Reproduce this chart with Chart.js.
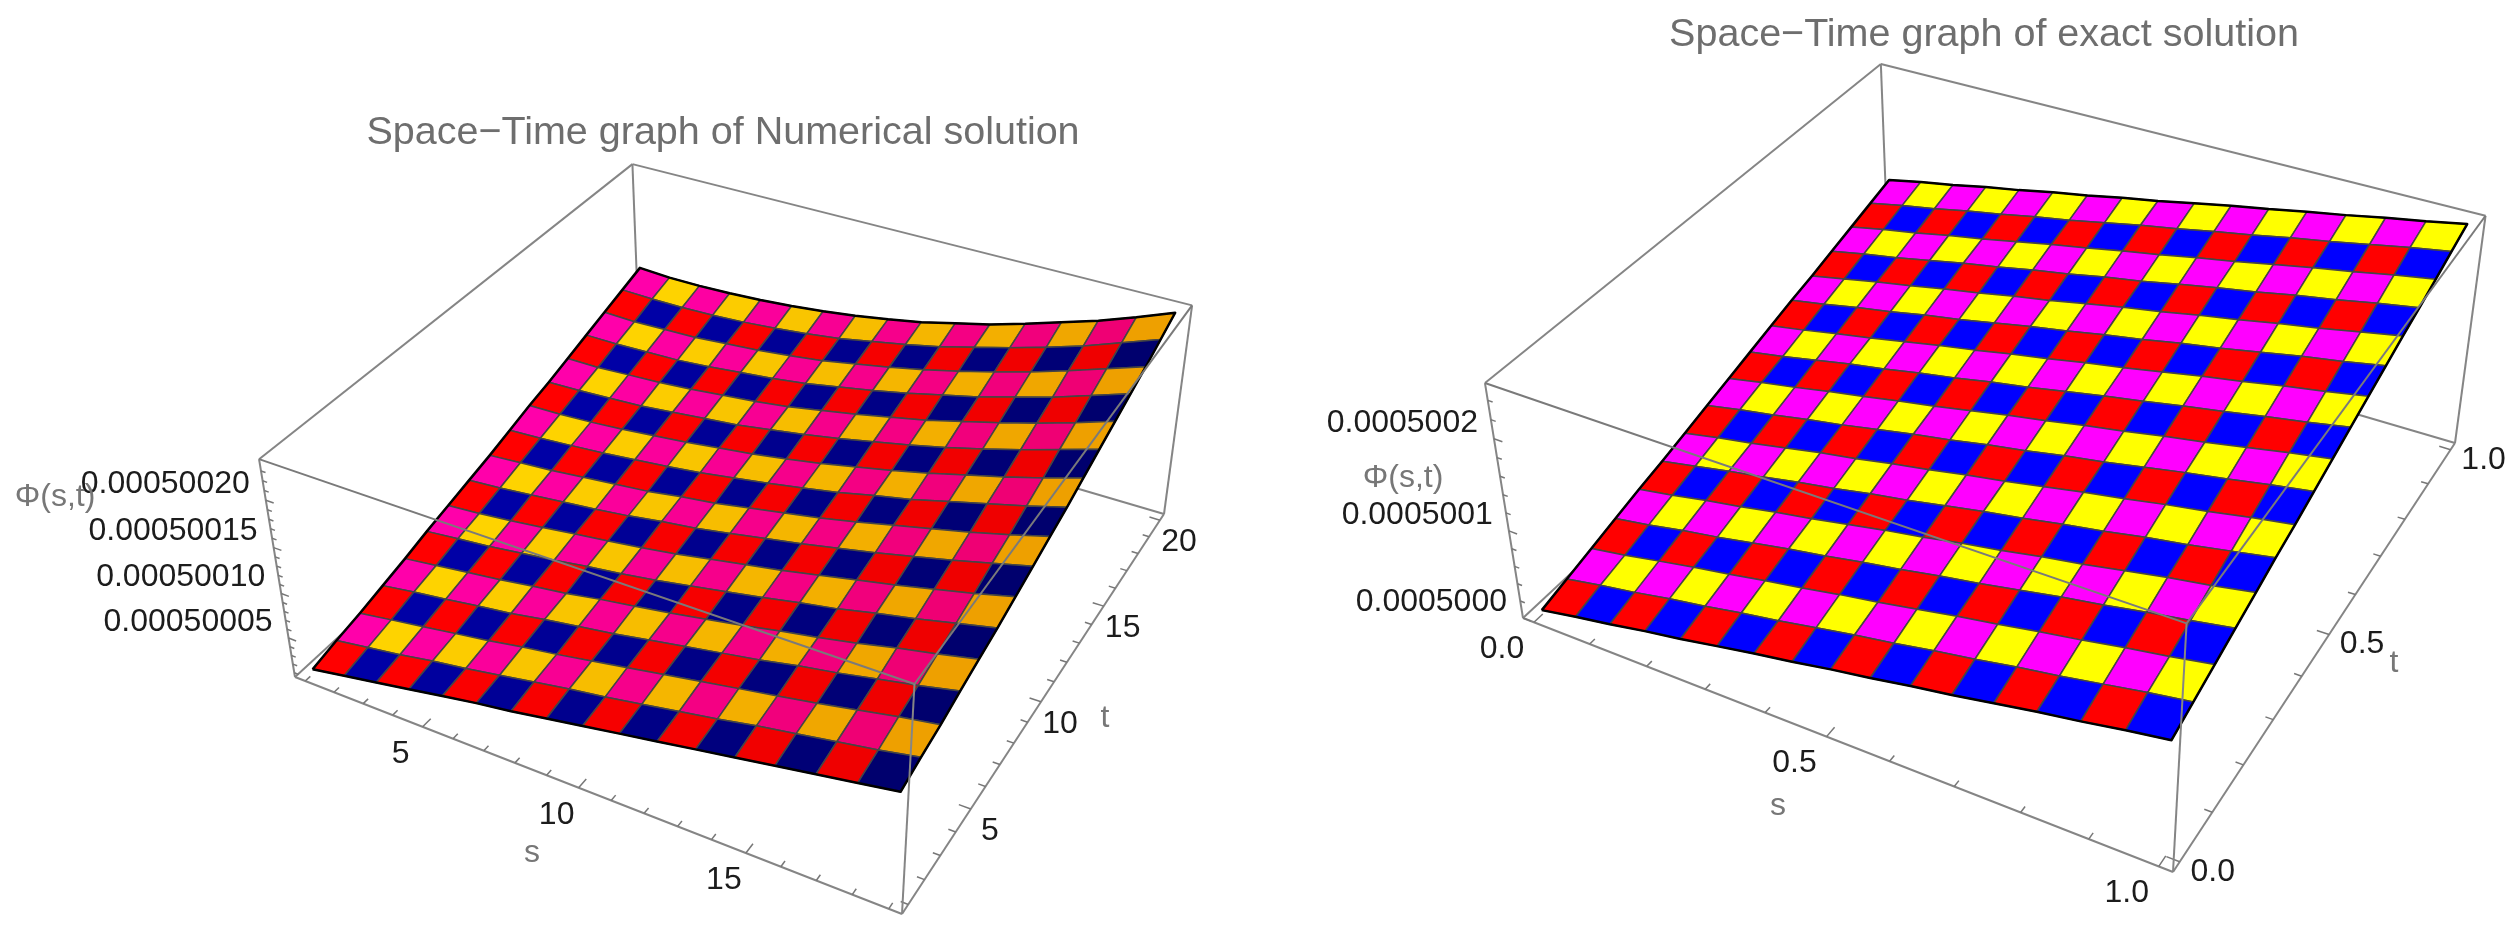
<!DOCTYPE html>
<html>
<head>
<meta charset="utf-8">
<title>Space-Time graphs</title>
<script src="https://cdn.jsdelivr.net/npm/chart.js@4"></script>
<style>
  html, body { margin: 0; padding: 0; background: #fff; overflow: hidden; }
  canvas { position: absolute; top: 0; }
</style>
</head>
<body>
<canvas id="numericChart" width="1300" height="935" style="left:0"></canvas>
<canvas id="exactChart" width="1219" height="935" style="left:1300px"></canvas>
<script>
'use strict';

// mesh nodes of both surfaces
const numericS = [1, 2.125, 3.25, 4.375, 5.5, 6.625, 7.75, 8.875, 10, 11.125, 12.25, 13.375, 14.5, 15.625, 16.75, 17.875, 19];
const numericT = [1, 2.1875, 3.375, 4.5625, 5.75, 6.9375, 8.125, 9.3125, 10.5, 11.6875, 12.875, 14.0625, 15.25, 16.4375, 17.625, 18.8125, 20];
const exactS = [0, 0.0625, 0.125, 0.1875, 0.25, 0.3125, 0.375, 0.4375, 0.5, 0.5625, 0.625, 0.6875, 0.75, 0.8125, 0.875, 0.9375, 1];
const exactT = [0, 0.0625, 0.125, 0.1875, 0.25, 0.3125, 0.375, 0.4375, 0.5, 0.5625, 0.625, 0.6875, 0.75, 0.8125, 0.875, 0.9375, 1];

// values, as (phi - 0.0005) in units of 1e-9; one row per t, one column per s
const numericPhi = [
  [10, 17, 24, 31, 38, 45, 51, 58, 65, 72, 79, 86, 93, 100, 107, 114, 121],
  [17, 23, 29, 36, 42, 49, 56, 63, 69, 76, 83, 90, 98, 105, 112, 119, 127],
  [23, 29, 35, 41, 47, 54, 60, 67, 74, 81, 88, 95, 102, 109, 117, 125, 132],
  [30, 36, 41, 47, 52, 59, 65, 71, 78, 85, 92, 99, 107, 114, 122, 130, 139],
  [37, 42, 47, 52, 58, 63, 70, 76, 82, 89, 96, 104, 111, 119, 128, 136, 145],
  [45, 49, 53, 58, 63, 69, 74, 80, 87, 94, 101, 109, 116, 125, 133, 142, 151],
  [52, 55, 59, 64, 69, 74, 79, 85, 92, 99, 106, 114, 122, 130, 139, 148, 158],
  [59, 62, 66, 70, 74, 79, 85, 90, 97, 104, 111, 119, 127, 136, 145, 155, 165],
  [66, 69, 72, 76, 80, 84, 90, 95, 102, 109, 116, 124, 133, 142, 151, 161, 172],
  [74, 76, 79, 82, 86, 90, 95, 101, 107, 114, 121, 130, 138, 148, 158, 168, 179],
  [82, 83, 85, 88, 92, 96, 101, 106, 112, 119, 127, 135, 144, 154, 164, 175, 187],
  [89, 90, 92, 94, 98, 102, 106, 112, 118, 125, 133, 141, 150, 160, 171, 183, 195],
  [97, 97, 99, 101, 104, 108, 112, 117, 124, 131, 139, 147, 157, 167, 178, 190, 203],
  [105, 105, 106, 107, 110, 114, 118, 123, 130, 137, 145, 154, 163, 174, 185, 198, 211],
  [113, 112, 113, 114, 117, 120, 124, 129, 136, 143, 151, 160, 170, 181, 193, 206, 219],
  [121, 120, 120, 121, 123, 126, 130, 135, 142, 149, 157, 167, 177, 188, 200, 214, 228],
  [129, 127, 127, 128, 130, 133, 137, 142, 148, 155, 164, 173, 184, 196, 208, 222, 237]
];
const exactPhi = [
  [5, 13, 20, 28, 35, 43, 51, 58, 66, 73, 81, 88, 96, 104, 111, 119, 126],
  [13, 21, 28, 36, 43, 51, 58, 66, 74, 81, 89, 96, 104, 111, 119, 127, 134],
  [21, 28, 36, 44, 51, 59, 66, 74, 81, 89, 97, 104, 112, 119, 127, 134, 142],
  [29, 36, 44, 51, 59, 67, 74, 82, 89, 97, 104, 112, 120, 127, 135, 142, 150],
  [37, 44, 52, 59, 67, 74, 82, 90, 97, 105, 112, 120, 127, 135, 143, 150, 158],
  [44, 52, 60, 67, 75, 82, 90, 97, 105, 113, 120, 128, 135, 143, 150, 158, 166],
  [52, 60, 67, 75, 83, 90, 98, 105, 113, 120, 128, 136, 143, 151, 158, 166, 173],
  [60, 68, 75, 83, 90, 98, 106, 113, 121, 128, 136, 143, 151, 159, 166, 174, 181],
  [68, 76, 83, 91, 98, 106, 113, 121, 129, 136, 144, 151, 159, 166, 174, 182, 189],
  [76, 83, 91, 99, 106, 114, 121, 129, 136, 144, 152, 159, 167, 174, 182, 189, 197],
  [84, 91, 99, 106, 114, 122, 129, 137, 144, 152, 159, 167, 175, 182, 190, 197, 205],
  [92, 99, 107, 114, 122, 129, 137, 145, 152, 160, 167, 175, 182, 190, 198, 205, 213],
  [99, 107, 115, 122, 130, 137, 145, 152, 160, 168, 175, 183, 190, 198, 205, 213, 221],
  [107, 115, 122, 130, 138, 145, 153, 160, 168, 175, 183, 191, 198, 206, 213, 221, 228],
  [115, 123, 130, 138, 145, 153, 161, 168, 176, 183, 191, 198, 206, 214, 221, 229, 236],
  [123, 131, 138, 146, 153, 161, 168, 176, 184, 191, 199, 206, 214, 221, 229, 237, 244],
  [131, 139, 146, 154, 161, 169, 176, 184, 191, 199, 207, 214, 222, 229, 237, 244, 252]
];

// ticks
const numericSTicks = [1, 2, 3, 4, 5, 6, 7, 8, 9, 10, 11, 12, 13, 14, 15, 16, 17, 18, 19];
const numericSLabels = [5, 10, 15];
const numericTTicks = [1, 2, 3, 4, 5, 6, 7, 8, 9, 10, 11, 12, 13, 14, 15, 16, 17, 18, 19, 20];
const numericTLabels = [5, 10, 15, 20];
const numericPhiTicks = [10, 20, 30, 40, 50, 60, 70, 80, 90, 100, 110, 120, 130, 140, 150, 160, 170, 180, 190, 200, 210, 220, 230];
const numericPhiLabels = [50, 100, 150, 200];
const exactSTicks = [0, 0.1, 0.2, 0.3, 0.4, 0.5, 0.6, 0.7, 0.8, 0.9, 1];
const exactSLabels = [0, 0.5, 1];
const exactTTicks = [0, 0.1, 0.2, 0.3, 0.4, 0.5, 0.6, 0.7, 0.8, 0.9, 1];
const exactTLabels = [0, 0.5, 1];
const exactPhiTicks = [0, 20, 40, 60, 80, 100, 120, 140, 160, 180, 200, 220, 240];
const exactPhiLabels = [0, 100, 200];

const TITLE_SIZE = 39.5;
const TICK_FONT = '32px "Liberation Sans"';
const LABEL_FONT = '32px "Liberation Sans"';
const TICK_COLOR = '#1c1c1c';
const LABEL_COLOR = '#777777';
const BOX_COLOR = '#858585';
const MESH_COLOR = '#454545';

const panels = [{
  canvas: 'numericChart',
  originX: 0,
  chartLeft: 146,
  chartRight: 1300,
  title: 'Space\u2212Time graph of Numerical solution',
  titleTop: 109,
  s: numericS, t: numericT, phi: numericPhi,
  sRange: [0.64, 19.36], tRange: [0.62, 20.38], phiRange: [5, 242],
  sTicks: numericSTicks, sLabels: numericSLabels,
  tTicks: numericTTicks, tLabels: numericTLabels,
  phiTicks: numericPhiTicks, phiLabels: numericPhiLabels,
  axisDecimals: 0, phiDecimals: 8,
  // view of the box: u, v, w in 0..1 to homogeneous picture position
  camera: [
    [496.17, 485.69, -54.5, 295],
    [124.70, -237.86, -250.7, 677],
    [-0.12287, 0.21983, -0.07157, 1]
  ],
  sOffset: [-22, 27], tOffset: [19, 22], phiOffset: [-16, -16],
  sName: [532, 853], tName: [1105, 718], phiName: [55, 497],
  shades: [
    [[[255, 0, 0], [238, 0, 0]], [[0, 0, 170], [0, 0, 110]]],
    [[[255, 0, 170], [238, 0, 112]], [[255, 215, 0], [238, 160, 0]]]
  ]
}, {
  canvas: 'exactChart',
  originX: 1300,
  chartLeft: 1449,
  chartRight: 2519,
  title: 'Space\u2212Time graph of exact solution',
  titleTop: 11,
  s: exactS, t: exactT, phi: exactPhi,
  sRange: [-0.02, 1.02], tRange: [-0.02, 1.02], phiRange: [0, 257.7],
  sTicks: exactSTicks, sLabels: exactSLabels,
  tTicks: exactTTicks, tLabels: exactTLabels,
  phiTicks: exactPhiTicks, phiLabels: exactPhiLabels,
  axisDecimals: 1, phiDecimals: 7,
  camera: [
    [380.92, 762.90, -143.7, 1523],
    [146.02, -282.80, -262.2, 618],
    [-0.12383, 0.21011, -0.07116, 1]
  ],
  sOffset: [-32, 27], tOffset: [33, 10], phiOffset: [-16, -16],
  sName: [1778, 806], tName: [2394, 663], phiName: [1403, 478],
  shades: [
    [[[255, 0, 0], [255, 0, 0]], [[0, 0, 255], [0, 0, 255]]],
    [[[255, 0, 255], [255, 0, 255]], [[255, 255, 0], [255, 255, 0]]]
  ]
}];

function project(cam, u, v, w) {
  const d = cam[2][0] * u + cam[2][1] * v + cam[2][2] * w + cam[2][3];
  return {
    x: (cam[0][0] * u + cam[0][1] * v + cam[0][2] * w + cam[0][3]) / d,
    y: (cam[1][0] * u + cam[1][1] * v + cam[1][2] * w + cam[1][3]) / d
  };
}

function unit(range, value) {
  return (value - range[0]) / (range[1] - range[0]);
}

function surfacePoint(p, i, j) {
  return project(p.camera, unit(p.sRange, p.s[i]), unit(p.tRange, p.t[j]), unit(p.phiRange, p.phi[j][i]));
}

function lineSet(points, color, width, extra) {
  return Object.assign({
    data: points,
    showLine: true,
    borderColor: color,
    borderWidth: width,
    borderJoinStyle: 'round',
    pointRadius: 0,
    fill: false,
    clip: false
  }, extra || {});
}

function cellColor(p, i, j) {
  const pair = p.shades[j % 2][i % 2];
  const f = i / (p.s.length - 2);
  const c = pair[0].map((from, k) => Math.round(from + (pair[1][k] - from) * f));
  return 'rgb(' + c.join(',') + ')';
}

function buildDatasets(p) {
  const cam = p.camera;
  const sets = [];
  const edge = (a, b, color, width) => sets.push(lineSet(
    [project(cam, a[0], a[1], a[2]), project(cam, b[0], b[1], b[2])], color || BOX_COLOR, width || 2));

  // box edges behind the surface
  edge([0, 0, 0], [0, 1, 0]);
  edge([0, 1, 0], [1, 1, 0]);
  edge([0, 1, 0], [0, 1, 1]);
  edge([0, 0, 1], [0, 1, 1]);
  edge([0, 1, 1], [1, 1, 1]);
  edge([0, 0, 0], [0, 0, 1]);
  edge([1, 1, 0], [1, 1, 1]);
  edge([0, 0, 0], [1, 0, 0]);
  edge([1, 0, 0], [1, 1, 0]);

  // ticks
  p.sTicks.forEach(val => {
    const u = unit(p.sRange, val);
    const len = p.sLabels.includes(val) ? 0.02 : 0.012;
    edge([u, 0, 0], [u, len, 0], '#777777', 1.5);
  });
  p.tTicks.forEach(val => {
    const v = unit(p.tRange, val);
    const len = p.tLabels.includes(val) ? 0.018 : 0.011;
    edge([1, v, 0], [1 - len, v, 0], '#777777', 1.5);
  });
  p.phiTicks.forEach(val => {
    const w = unit(p.phiRange, val);
    const len = p.phiLabels.includes(val) ? 0.014 : 0.008;
    edge([0, 0, w], [len, 0, w], '#777777', 1.5);
  });

  // surface cells
  for (let j = p.t.length - 2; j >= 0; j--) {
    for (let i = 0; i < p.s.length - 1; i++) {
      const corners = [surfacePoint(p, i, j), surfacePoint(p, i + 1, j), surfacePoint(p, i + 1, j + 1), surfacePoint(p, i, j + 1)];
      corners.push(corners[0]);
      sets.push(lineSet(corners, MESH_COLOR, 1.5, { fill: 'shape', backgroundColor: cellColor(p, i, j) }));
    }
  }

  // black outline of the surface
  const outline = [];
  const last = p.s.length - 1;
  for (let i = 0; i <= last; i++) outline.push(surfacePoint(p, i, 0));
  for (let j = 1; j <= last; j++) outline.push(surfacePoint(p, last, j));
  for (let i = last - 1; i >= 0; i--) outline.push(surfacePoint(p, i, last));
  for (let j = last - 1; j >= 0; j--) outline.push(surfacePoint(p, 0, j));
  sets.push(lineSet(outline, '#000000', 2.5));

  // box edges in front of the surface
  edge([0, 0, 1], [1, 0, 1], '#7a7a7a');
  edge([1, 0, 1], [1, 1, 1], '#7a7a7a');
  edge([1, 0, 0], [1, 0, 1], '#858585');

  // the first dataset is painted last
  return sets.reverse();
}

function buildTexts(p) {
  const cam = p.camera;
  const texts = [];
  const fmt = (val, d) => val.toFixed(d);
  p.sLabels.forEach(val => {
    const a = project(cam, unit(p.sRange, val), 0, 0);
    texts.push({ text: fmt(val, p.axisDecimals), x: a.x + p.sOffset[0], y: a.y + p.sOffset[1], align: 'center', font: TICK_FONT, color: TICK_COLOR });
  });
  p.tLabels.forEach(val => {
    const a = project(cam, 1, unit(p.tRange, val), 0);
    texts.push({ text: fmt(val, p.axisDecimals), x: a.x + p.tOffset[0], y: a.y + p.tOffset[1], align: 'center', font: TICK_FONT, color: TICK_COLOR });
  });
  p.phiLabels.forEach(val => {
    const a = project(cam, 0, 0, unit(p.phiRange, val));
    texts.push({ text: fmt(0.0005 + val * 1e-9, p.phiDecimals), x: a.x + p.phiOffset[0], y: a.y + p.phiOffset[1], align: 'right', font: TICK_FONT, color: TICK_COLOR });
  });
  texts.push({ text: 's', x: p.sName[0], y: p.sName[1], align: 'center', font: LABEL_FONT, color: LABEL_COLOR });
  texts.push({ text: 't', x: p.tName[0], y: p.tName[1], align: 'center', font: LABEL_FONT, color: LABEL_COLOR });
  texts.push({ text: '\u03a6(s,t)', x: p.phiName[0], y: p.phiName[1], align: 'center', font: LABEL_FONT, color: LABEL_COLOR });
  return texts;
}

const axisText = {
  id: 'axisText',
  afterDraw(chart, args, opts) {
    const ctx = chart.ctx;
    ctx.save();
    ctx.textBaseline = 'middle';
    opts.items.forEach(item => {
      ctx.font = item.font;
      ctx.fillStyle = item.color;
      ctx.textAlign = item.align;
      ctx.fillText(item.text, chart.scales.x.getPixelForValue(item.x), chart.scales.y.getPixelForValue(item.y));
    });
    ctx.restore();
  }
};

panels.forEach(p => {
  const ctx = document.getElementById(p.canvas).getContext('2d');
  const chartTop = p.titleTop + TITLE_SIZE * 1.2;
  new Chart(ctx, {
    type: 'scatter',
    data: { datasets: buildDatasets(p) },
    plugins: [axisText],
    options: {
      responsive: false,
      animation: false,
      events: [],
      layout: { padding: { left: p.chartLeft - p.originX, right: 0, top: 0, bottom: 0 } },
      scales: {
        x: { type: 'linear', display: false, min: p.chartLeft, max: p.chartRight },
        y: { type: 'linear', display: false, min: chartTop, max: 935, reverse: true }
      },
      plugins: {
        legend: { display: false },
        tooltip: { enabled: false },
        title: {
          display: true,
          text: p.title,
          color: '#6e6e6e',
          fullSize: false,
          font: { family: 'Liberation Sans', size: TITLE_SIZE, weight: 'normal', lineHeight: 1.2 },
          padding: { top: p.titleTop, bottom: 0 }
        },
        axisText: { items: buildTexts(p) }
      }
    }
  });
});
</script>
</body>
</html>
